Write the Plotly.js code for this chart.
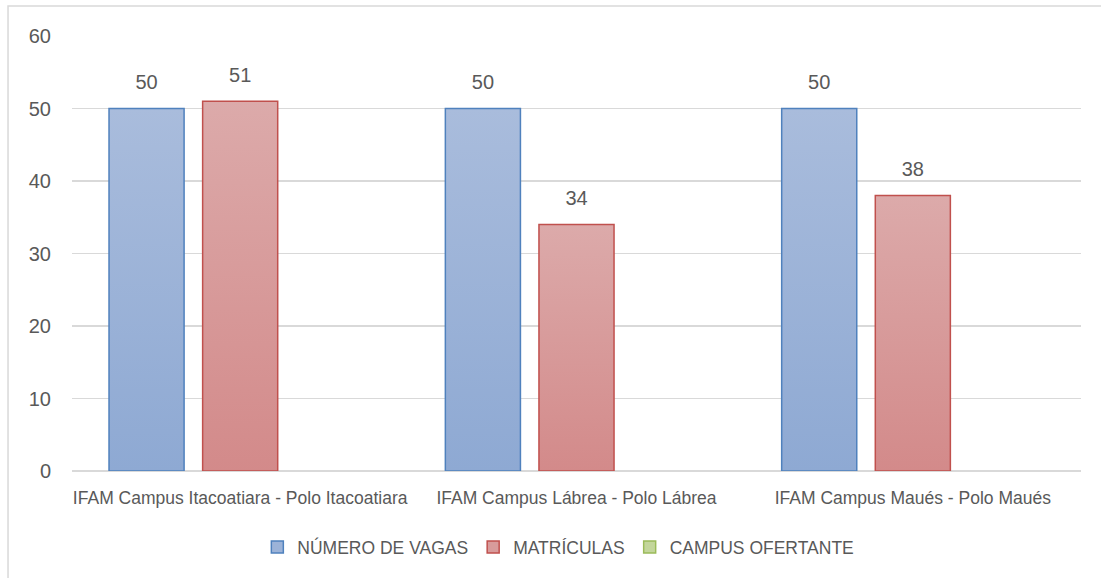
<!DOCTYPE html>
<html><head><meta charset="utf-8">
<script src="https://cdn.plot.ly/plotly-3.0.1.min.js"></script>
<style>html,body{margin:0;padding:0;background:#fff}#chart{width:1101px;height:578px}</style>
</head><body><div id="chart"></div>
<script>
const categories = ["IFAM Campus Itacoatiara - Polo Itacoatiara", "IFAM Campus Lábrea - Polo Lábrea", "IFAM Campus Maués - Polo Maués"];
const seriesNames = ["NÚMERO DE VAGAS", "MATRÍCULAS", "CAMPUS OFERTANTE"];
const vagas = [50, 50, 50];
const matriculas = [51, 34, 38];
const campusOfertante = [null, null, null];
const yTicks = [0, 10, 20, 30, 40, 50, 60];

const txt = '#595959';
const cond = '"Liberation Sans", Arial, sans-serif';
const reg = '"Liberation Sans", Arial, sans-serif';
const labelTpl = '<span style="font-size:20px">%{y}</span><br>&nbsp;';

// gradient stops (top, bottom) per series, used for bar fills
const gradients = [
  ['#a9bcdc', '#8ea9d3'],
  ['#dcaaaa', '#d38a8a'],
  ['#cfdfb0', '#b7cd86']
];

function barTrace(name, y, fill, line) {
  return {
    type: 'bar', name: name, x: categories, y: y,
    marker: {color: fill, line: {color: line, width: 1.5}},
    texttemplate: labelTpl, textposition: 'outside', cliponaxis: false,
    textfont: {family: reg, size: 11, color: txt},
    hoverinfo: 'none'
  };
}

const data = [
  barTrace(seriesNames[0], vagas, '#9cb3d8', '#4f81bd'),
  barTrace(seriesNames[1], matriculas, '#d89b9b', '#c0504d'),
  barTrace(seriesNames[2], campusOfertante, '#c3d69b', '#9bbb59')
];

const layout = {
  width: 1101, height: 578,
  margin: {l: 72, r: 20, t: 36, b: 107},
  paper_bgcolor: '#fff', plot_bgcolor: '#fff',
  barmode: 'group', bargap: 0.165, bargroupgap: 0.198,
  showlegend: true,
  legend: {orientation: 'h', x: 0.482, xanchor: 'center', y: -0.175, yanchor: 'middle',
           font: {family: cond, size: 17.5, color: txt}, traceorder: 'normal', itemwidth: 30},
  xaxis: {type: 'category', showgrid: false, zeroline: false, showline: false, ticks: '',
          tickangle: 0, ticklabelstandoff: 14,
          tickfont: {family: cond, size: 17.5, color: txt}, automargin: false},
  yaxis: {range: [0, 60], tickvals: yTicks, ticktext: yTicks.map(String), showgrid: true,
          gridcolor: '#d9d9d9', gridwidth: 1.5, zeroline: true, zerolinecolor: '#d9d9d9', zerolinewidth: 1.5,
          showline: false, ticks: '', ticklabelstandoff: 20,
          tickfont: {family: reg, size: 20, color: txt}, automargin: false},
  shapes: [{type: 'rect', xref: 'paper', yref: 'paper', x0: -0.0634, x1: 1.2, y0: -0.5, y1: 1.069,
            line: {color: '#d9d9d9', width: 1.5}, fillcolor: 'rgba(0,0,0,0)', layer: 'below'}]
};

Plotly.newPlot('chart', data, layout, {staticPlot: true, displayModeBar: false}).then(function (gd) {
  const NS = 'http://www.w3.org/2000/svg';
  const svg = gd.querySelector('.main-svg');
  let defs = svg.querySelector('defs');
  if (!defs) { defs = document.createElementNS(NS, 'defs'); svg.insertBefore(defs, svg.firstChild); }
  gradients.forEach(function (g, i) {
    const lg = document.createElementNS(NS, 'linearGradient');
    lg.setAttribute('id', 'barGrad' + i);
    lg.setAttribute('x1', '0'); lg.setAttribute('y1', '0');
    lg.setAttribute('x2', '0'); lg.setAttribute('y2', '1');
    [[0, g[0]], [1, g[1]]].forEach(function (s) {
      const st = document.createElementNS(NS, 'stop');
      st.setAttribute('offset', s[0]);
      st.setAttribute('stop-color', s[1]);
      lg.appendChild(st);
    });
    defs.appendChild(lg);
  });
  gd.querySelectorAll('.barlayer .trace.bars').forEach(function (tr, i) {
    tr.querySelectorAll('.point path').forEach(function (p) {
      p.style.fill = 'url(#barGrad' + i + ')';
    });
  });
});
</script></body></html>
